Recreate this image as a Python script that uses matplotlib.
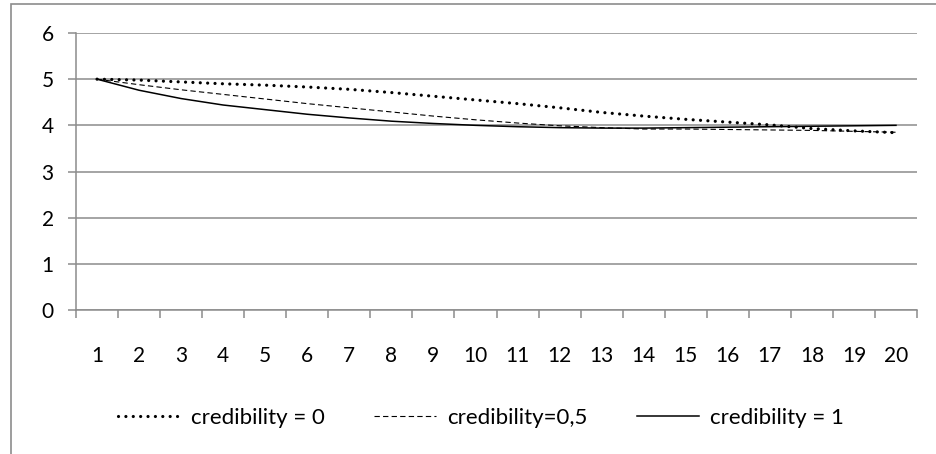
import matplotlib.pyplot as plt
from matplotlib.patches import Rectangle
import numpy as np

plt.rcParams['font.family'] = ['Lato', 'DejaVu Sans']

steps = list(range(1, 21))
cred_0 = [5.0, 4.98, 4.94, 4.90, 4.87, 4.83, 4.78, 4.71, 4.63, 4.55,
          4.47, 4.38, 4.28, 4.20, 4.13, 4.07, 4.01, 3.93, 3.88, 3.84]
cred_05 = [5.0, 4.88, 4.77, 4.67, 4.57, 4.47, 4.38, 4.29, 4.20, 4.12,
           4.05, 3.99, 3.95, 3.92, 3.92, 3.91, 3.90, 3.89, 3.87, 3.85]
cred_1 = [5.0, 4.76, 4.58, 4.44, 4.34, 4.24, 4.16, 4.09, 4.04, 4.00,
          3.97, 3.95, 3.94, 3.94, 3.95, 3.96, 3.97, 3.98, 3.99, 4.00]
labels = ['credibility = 0', 'credibility=0,5', 'credibility = 1']

grey = '#8c8c8c'

fig = plt.figure(figsize=(9.36, 4.54), dpi=100)
ax = fig.add_axes([76 / 936, 1 - 310 / 454, (917 - 76) / 936, (310 - 33) / 454])

l0, = ax.plot(steps, cred_0, color='black', lw=2.3,
              linestyle=(0, (0.01, 2.3)), dash_capstyle='round')
l1, = ax.plot(steps, cred_05, color='black', lw=0.8, linestyle=(0, (4.8, 2.9)))
l2, = ax.plot(steps, cred_1, color='black', lw=1.1)

ax.set_xlim(0.5, 20.5)
ax.set_ylim(0, 6)
ax.set_yticks(range(7))
ax.set_xticks(steps)
ax.set_xticks(np.arange(0.5, 21, 1), minor=True)
ax.grid(axis='y', color=grey, lw=1.1)
ax.set_axisbelow(True)

for s in ['top', 'right']:
    ax.spines[s].set_visible(False)
for s in ['left', 'bottom']:
    ax.spines[s].set_color(grey)
    ax.spines[s].set_linewidth(1.1)

ax.tick_params(axis='y', length=6, width=1.1, color=grey, pad=10, labelsize=15)
ax.tick_params(axis='x', which='major', length=0, pad=26, labelsize=15)
ax.tick_params(axis='x', which='minor', length=6, width=1.1, color=grey)

fig.legend([l0, l1, l2], labels, loc='center', bbox_to_anchor=(481 / 936, 1 - 418 / 454),
           ncol=3, frameon=False, fontsize=16, handlelength=2.8,
           handletextpad=0.5, columnspacing=2.2)

fig.add_artist(Rectangle((11 / 936, -0.1), 1.2, 1.1 - 4 / 454,
                         transform=fig.transFigure, fill=False,
                         edgecolor=grey, lw=1.2))

fig.savefig('out.png', dpi=100)
